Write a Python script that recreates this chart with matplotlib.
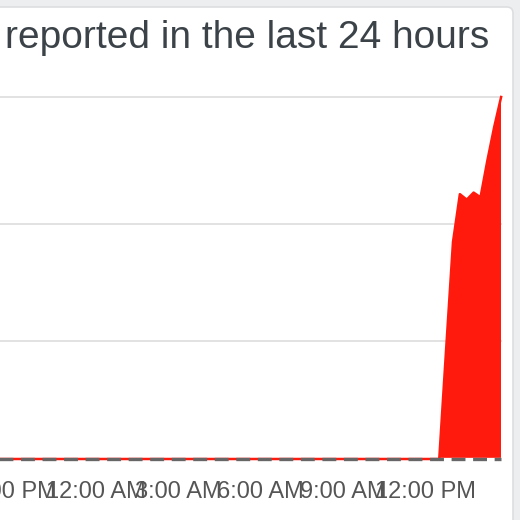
import matplotlib
matplotlib.use("Agg")
import matplotlib.pyplot as plt
from matplotlib.patches import FancyBboxPatch

# ---- data (hours relative to midnight; 15-minute report counts) ----
hours = [h / 4 for h in range(-37, 60)]  # 2:45 PM previous day .. 2:45 PM
reports = (
    [0] * 88
    + [140, 277, 338, 331, 340, 334, 381, 424, 462]
)
tick_hours = [-3, 0, 3, 6, 9, 12]
tick_labels = ["9:00 PM", "12:00 AM", "3:00 AM", "6:00 AM", "9:00 AM", "12:00 PM"]
grid_values = [150, 300]
y_top = 462
title = "reported in the last 24 hours"

plt.rcParams["lines.scale_dashes"] = False
W = H = 520
fig = plt.figure(figsize=(5.2, 5.2), dpi=100)
fig.patch.set_facecolor("#eceef0")

# white card
card = FancyBboxPatch((-30 / W, -30 / H), (513 + 30) / W, (513 + 30) / H,
                      boxstyle="round,pad=0,rounding_size=0.012",
                      transform=fig.transFigure, facecolor="white",
                      edgecolor="#dcdee0", linewidth=1.2, zorder=-5)
fig.patches.append(card)

fig.text(5 / W, 1 - 48 / H, title, fontsize=28, color="#3b4349",
         family="Liberation Sans", ha="left", va="baseline")

# axes placed so that the left part is cut off like the reference
px_per_h = 27.5
x0 = hours[0]
x1 = hours[-1]
zero_px = 95.5
left_px = zero_px + x0 * px_per_h
right_px = zero_px + x1 * px_per_h
ax = fig.add_axes([left_px / W, (520 - 459) / H, (right_px - left_px) / W, (459 - 97) / H])
ax.set_facecolor("none")
ax.set_xlim(x0, x1)
ax.set_ylim(0, y_top)

for v in grid_values + [y_top]:
    ax.axhline(v, color="#e2e2e2", linewidth=1.4, zorder=1, clip_on=False)

ax.fill_between(hours, reports, 0, color="#ff1a0d", linewidth=0, zorder=2)
ax.plot(hours, [0] * len(hours), color="white", linewidth=2.4, zorder=3, clip_on=False)
ax.plot(hours, reports, color="#ff1a0d", linewidth=1.8, zorder=4, clip_on=False)
ax.plot(hours, [0] * len(hours), color="#666666", linewidth=2.4, zorder=5,
        dashes=(10, 5.5), clip_on=False)

for s in ax.spines.values():
    s.set_visible(False)
ax.set_yticks([])
ax.set_xticks(tick_hours)
ax.set_xticklabels(tick_labels, fontsize=17, color="#555555", family="Liberation Sans")
ax.tick_params(axis="x", length=0, pad=16)

fig.savefig("out.png", dpi=100, facecolor=fig.get_facecolor())
